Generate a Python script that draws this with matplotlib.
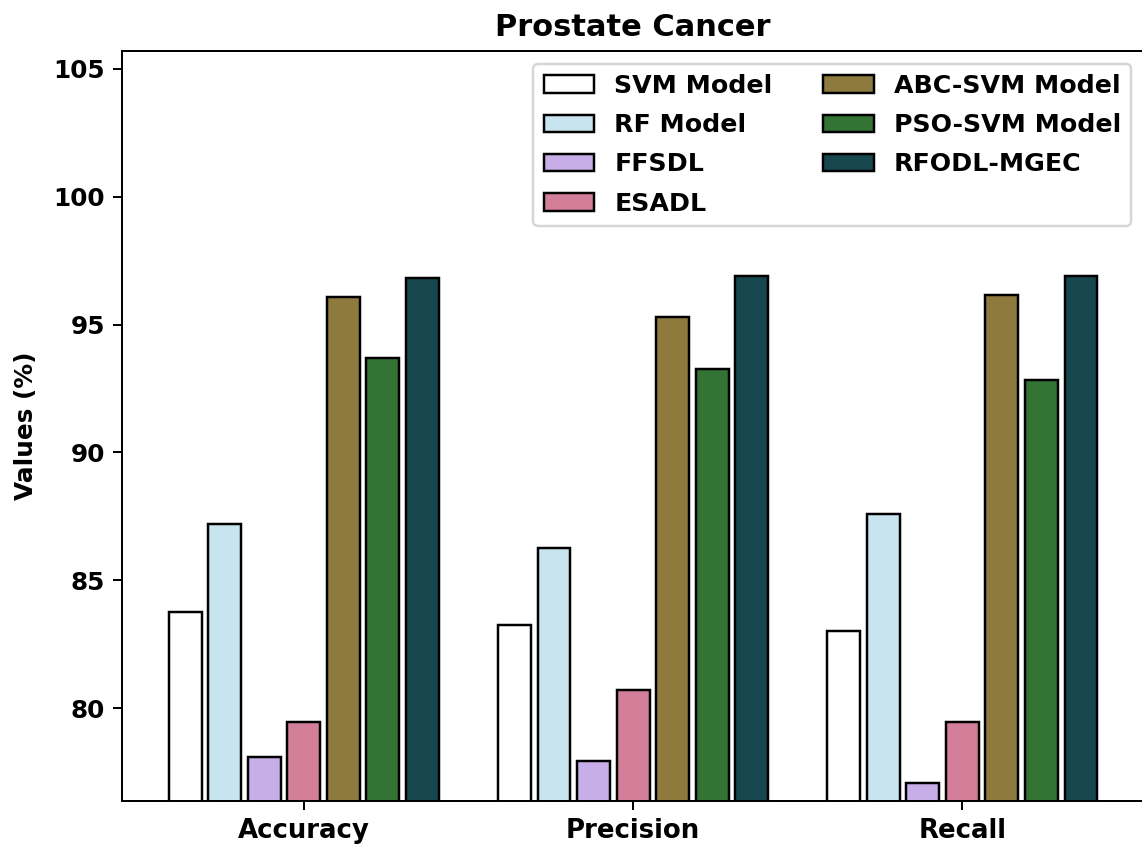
import numpy as np
import matplotlib
matplotlib.use('Agg')
import matplotlib.pyplot as plt

metrics = ['Accuracy', 'Precision', 'Recall']
models = ['SVM Model', 'RF Model', 'FFSDL', 'ESADL',
          'ABC-SVM Model', 'PSO-SVM Model', 'RFODL-MGEC']
colors = ['#ffffff', '#c8e4ef', '#c8aee8', '#d47f9a',
          '#8f7a3e', '#337435', '#17474e']

svm = [83.75, 83.24, 83.02]
rf = [87.22, 86.28, 87.59]
ffsdl = [78.08, 77.94, 77.06]
esadl = [79.45, 80.70, 79.45]
abc_svm = [96.08, 95.28, 96.15]
pso_svm = [93.71, 93.26, 92.83]
rfodl_mgec = [96.82, 96.89, 96.89]

values = [svm, rf, ffsdl, esadl, abc_svm, pso_svm, rfodl_mgec]

dpi = 178.4
fig = plt.figure(figsize=(1142 / dpi, 850 / dpi), dpi=dpi)
# the right spine sits just outside the picture in the reference
ax = fig.add_axes([0.107, 0.0576, (1144 - 122.3) / 1142, 0.882])

x = np.arange(len(metrics))
width = 0.1
step = 0.12
for i, (name, vals, c) in enumerate(zip(models, values, colors)):
    ax.bar(x + (i - 3) * step, vals, width, label=name, color=c,
           edgecolor='black', linewidth=1)

ax.set_ylim(76.37, 105.68)
ax.set_yticks([80, 85, 90, 95, 100, 105])
ax.set_xticks(x)
ax.set_xticklabels(metrics, fontweight='bold', fontsize=10.5)
for lbl in ax.get_yticklabels():
    lbl.set_fontweight('bold')
ax.set_ylabel('Values (%)', fontweight='bold', labelpad=6)
ax.set_title('Prostate Cancer', fontweight='bold', fontsize=12.3)
ax.legend(ncol=2, loc='upper right', prop={'weight': 'bold', 'size': 10.2},
          labelspacing=0.6)

fig.savefig('out.png', dpi=dpi)
